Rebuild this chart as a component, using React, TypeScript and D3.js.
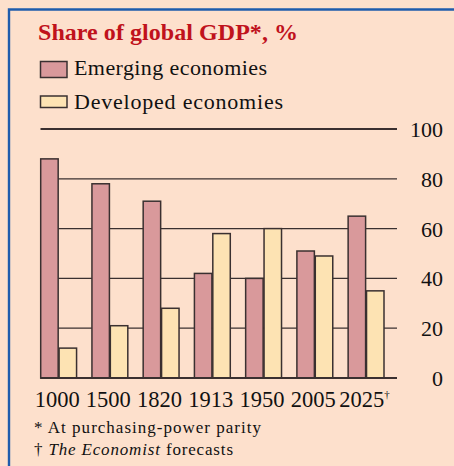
import React from "react";
import * as d3 from "d3";

const categories = ["1000", "1500", "1820", "1913", "1950", "2005", "2025"];
const emerging = [88, 78, 71, 42, 40, 51, 65];
const developed = [12, 21, 28, 58, 60, 49, 35];
const yTicks = [0, 20, 40, 60, 80, 100];
const seriesNames = ["Emerging economies", "Developed economies"];

const W = 454;
const H = 466;
const FONT = "'Liberation Serif', 'Times New Roman', serif";
const BG = "#fde0cc";
const PINK = "#d9999b";
const YELLOW = "#fde3b3";
const INK = "#3a3030";

export default function App() {
  const x = d3.scaleBand<string>().domain(categories).range([40.7, 384]).paddingInner(0.3).paddingOuter(0);
  const inner = d3.scaleBand<string>().domain(["e", "d"]).range([0, x.bandwidth()]).paddingInner(0.05);
  const y = d3.scaleLinear().domain([0, 100]).range([378, 129]);
  const gridX0 = 40.5;
  const gridX1 = 397;

  return (
    <svg width={W} height={H} style={{ position: "absolute", left: 0, top: 0, display: "block" }}>
      <rect x={0} y={0} width={W} height={H} fill={BG} />
      <path d={`M9,${H} V9.5 H${W}`} fill="none" stroke="#1f5cac" strokeWidth={2.4} />
      <text x={38} y={40} fontFamily={FONT} fontWeight="bold" fontSize={24} fill="#c0121c"
        textLength={260} lengthAdjust="spacing">
        Share of global GDP*, %
      </text>
      {/* legend */}
      <rect x={40.5} y={61.5} width={26.5} height={16} fill={PINK} stroke={INK} strokeWidth={1.5} />
      <text x={74} y={75} fontFamily={FONT} fontSize={22} fill="#111" textLength={193} lengthAdjust="spacing">{seriesNames[0]}</text>
      <rect x={40.5} y={96} width={26.5} height={11.5} fill={YELLOW} stroke={INK} strokeWidth={1.5} />
      <text x={74} y={109} fontFamily={FONT} fontSize={22} fill="#111" textLength={209} lengthAdjust="spacing">{seriesNames[1]}</text>

      {/* gridlines */}
      {yTicks.map((t) => (
        <g key={t}>
          <line
            x1={gridX0}
            x2={gridX1}
            y1={y(t)}
            y2={y(t)}
            stroke={INK}
            strokeWidth={t === 100 || t === 0 ? 2 : 1.3}
          />
          <text
            x={443}
            y={y(t)}
            dy="0.36em"
            textAnchor="end"
            fontFamily={FONT}
            fontSize={22}
            fill="#111"
          >
            {t}
          </text>
        </g>
      ))}

      {/* bars */}
      {categories.map((c, i) => (
        <g key={c} transform={`translate(${x(c)},0)`}>
          <rect
            x={inner("e")}
            y={y(emerging[i])}
            width={inner.bandwidth()}
            height={y(0) - y(emerging[i])}
            fill={PINK}
            stroke={INK}
            strokeWidth={1.5}
          />
          <rect
            x={inner("d")}
            y={y(developed[i])}
            width={inner.bandwidth()}
            height={y(0) - y(developed[i])}
            fill={YELLOW}
            stroke={INK}
            strokeWidth={1.5}
          />
        </g>
      ))}
      <line x1={gridX0} x2={gridX1} y1={y(0)} y2={y(0)} stroke={INK} strokeWidth={2} />

      {/* x labels */}
      {categories.map((c, i) => (
        <text
          key={c}
          x={(x(c) as number) + x.bandwidth() / 2 - 1.5}
          y={407}
          textAnchor="middle"
          fontFamily={FONT}
          fontSize={22.5}
          fill="#111"
        >
          {c}
          {i === categories.length - 1 ? (
            <tspan fontSize={11} dy={-9}>†</tspan>
          ) : null}
        </text>
      ))}

      {/* footnotes */}
      <text x={34} y={433} fontFamily={FONT} fontSize={17} fill="#111" textLength={227} lengthAdjust="spacing">
        * At purchasing-power parity
      </text>
      <text x={34} y={455} fontFamily={FONT} fontSize={17} fill="#111" textLength={199} lengthAdjust="spacing">
        † <tspan fontStyle="italic">The Economist</tspan> forecasts
      </text>
    </svg>
  );
}
